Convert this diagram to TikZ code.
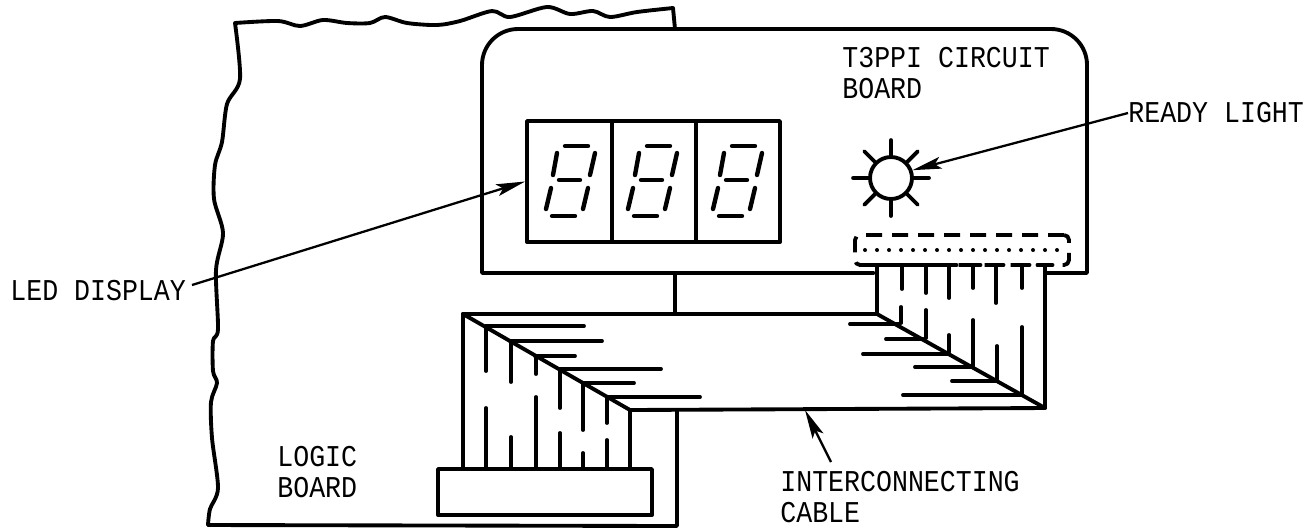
\documentclass[tikz,border=0pt]{standalone}
\usepackage{fontspec}
\newfontfamily\platefont[FakeStretch=0.88]{Liberation Mono}
\usetikzlibrary{arrows.meta}
\tikzset{
    wire/.style={line width=2.2pt, line cap=round},
    leader/.style={line width=1.3pt, -{Stealth[length=0.58cm,width=0.24cm,inset=0.12cm]}},
    plate/.style={font=\platefont\fontsize{17.2}{17.6}\selectfont, anchor=west, align=left, inner sep=0pt},
    segment/.style={line width=2.5pt, line cap=round},
    box/.style={draw, line width=2.2pt, inner sep=0pt}
}

\begin{document}
\begin{tikzpicture}[x=0.02cm, y=-0.02cm, line join=round]
    \useasboundingbox (0,0) rectangle (1310,529);
    % logic board outline
    \draw[wire] plot[smooth, tension=0.5] coordinates {(208,525) (210,509) (218,488) (212,438) (211,402) (217,383) (213,371) (213,341) (218,329) (216,270) (223,233) (214,199) (215,165) (222,142) (227,104) (240,79) (235,23)}
        -- plot[smooth, tension=0.5] coordinates {(235,23) (278,21) (300,26) (323,20) (347,23) (370,23) (385,17) (407,23) (437,25) (460,21) (492,11) (510,17) (547,7) (570,14) (593,11) (610,17) (637,12) (673,8)}
        -- (675,29);
    \draw[wire] (208,525) -- (677,526) -- (677,410);
    % circuit board
    \draw[wire] (874,273) -- (482,273) -- (482,65) arc (180:90:36 and -36) -- (1051,29) arc (90:0:36 and -36) -- (1087,273) -- (1047,273);
    \draw[wire] (675,273) -- (675,314);
    % display
    \node[box, minimum width=5.06cm, minimum height=2.42cm] (display) at (653.5,181.5) {};
    \draw[wire] (612,121) -- (612,242);
    \draw[wire] (696,121) -- (696,242);
    \foreach \d in {0,82,167} {
        \begin{scope}[xshift=\d*0.02cm]
            \draw[segment] (565,146) -- (588,146);
            \draw[segment] (557,153) -- (553,175);
            \draw[segment] (595,153) -- (590,175);
            \draw[segment] (559,180) -- (580,180);
            \draw[segment] (551,188) -- (546,209);
            \draw[segment] (588,188) -- (583,209);
            \draw[segment] (552,216) -- (575,216);
        \end{scope}
    }
    % ready light
    \node[box, circle, minimum size=0.84cm] (lamp) at (891,178) {};
    \foreach \a in {0,45,...,315} {
        \draw[wire] (lamp.\a) -- ++(\a:0.3cm);
    }
    % header
    \node[box, rounded corners=0.1cm, dash pattern=on 0.32cm off 0.2cm, minimum width=4.28cm, minimum height=0.6cm] (header) at (962,250) {};
    \foreach \i in {0,...,16} {
        \fill ({865+\i*12},250) circle (0.04cm);
    }
    % cable
    \coordinate (cabA) at (463,314);
    \coordinate (cabB) at (630,410);
    \coordinate (cabC) at (877,314);
    \coordinate (cabD) at (1045,408);
    \draw[wire] (cabA) -- (cabC);
    \draw[wire] (cabB) -- (cabD);
    \draw[wire] (cabA) -- (cabB);
    \draw[wire] (cabC) -- (cabD);
    \draw[wire] (cabC) -- (877,265);
    \draw[wire] (cabD) -- (1045,265);
    \draw[wire] (cabA) -- (463,468);
    \draw[wire] (cabB) -- (630,468);
    % pins at the header
    \foreach \x in {877,902,926,949,973,996,1022,1045} {
        \draw[wire] (\x-7.5,265) -- (\x+7.5,265);
    }
    \foreach \x/\a/\b in {902/265/289,926/265/293,949/265/298,973/265/288,996/265/303,1022/265/288,
        901/307/323,926/310/338,949/335/352,973/320/367,997/346/379,1022/327/393} {
        \draw[wire] (\x,\a) -- (\x,\b);
    }
    \foreach \y/\a/\b in {324/850/899,339/886/923,354/863/948,367/915/972,381/952/997,395/903/1022} {
        \draw[wire] (\a,\y) -- (\b,\y);
    }
    % pins at the plug
    \foreach \y/\a/\b in {326/486/584,341/510/602,356/535/575,369/560/661,383/583/634,397/607/700} {
        \draw[wire] (\a,\y) -- (\b,\y);
    }
    \foreach \x/\a/\b in {486/326/371,486/408/468,511/341/382,511/437/468,536/356/374,536/397/468,
        560/369/408,560/433/468,583/383/430,583/453/468,607/397/423,607/440/468} {
        \draw[wire] (\x,\a) -- (\x,\b);
    }
    \node[box, minimum width=4.28cm, minimum height=0.92cm] (plug) at (545,492) {};
    % labels
    \node[plate] (circuit) at (842,73) {T3PPI CIRCUIT\\BOARD};
    \node[plate] (ready) at (1128,113) {READY LIGHT};
    \node[plate] (led) at (10,291) {LED DISPLAY};
    \node[plate] (logic) at (277,472) {LOGIC\\BOARD};
    \node[plate] (cable) at (780,497) {INTERCONNECTING\\CABLE};
    % leaders
    \coordinate (ledtail) at (192,285);
    \coordinate (cabletail) at (831,462);
    \coordinate (cabletip) at (805,410);
    \draw[leader] (ledtail) -- (display.west);
    \draw[leader] (ready.west) -- (lamp.20);
    \draw[leader] (cabletail) -- (cabletip);
\end{tikzpicture}
\end{document}
